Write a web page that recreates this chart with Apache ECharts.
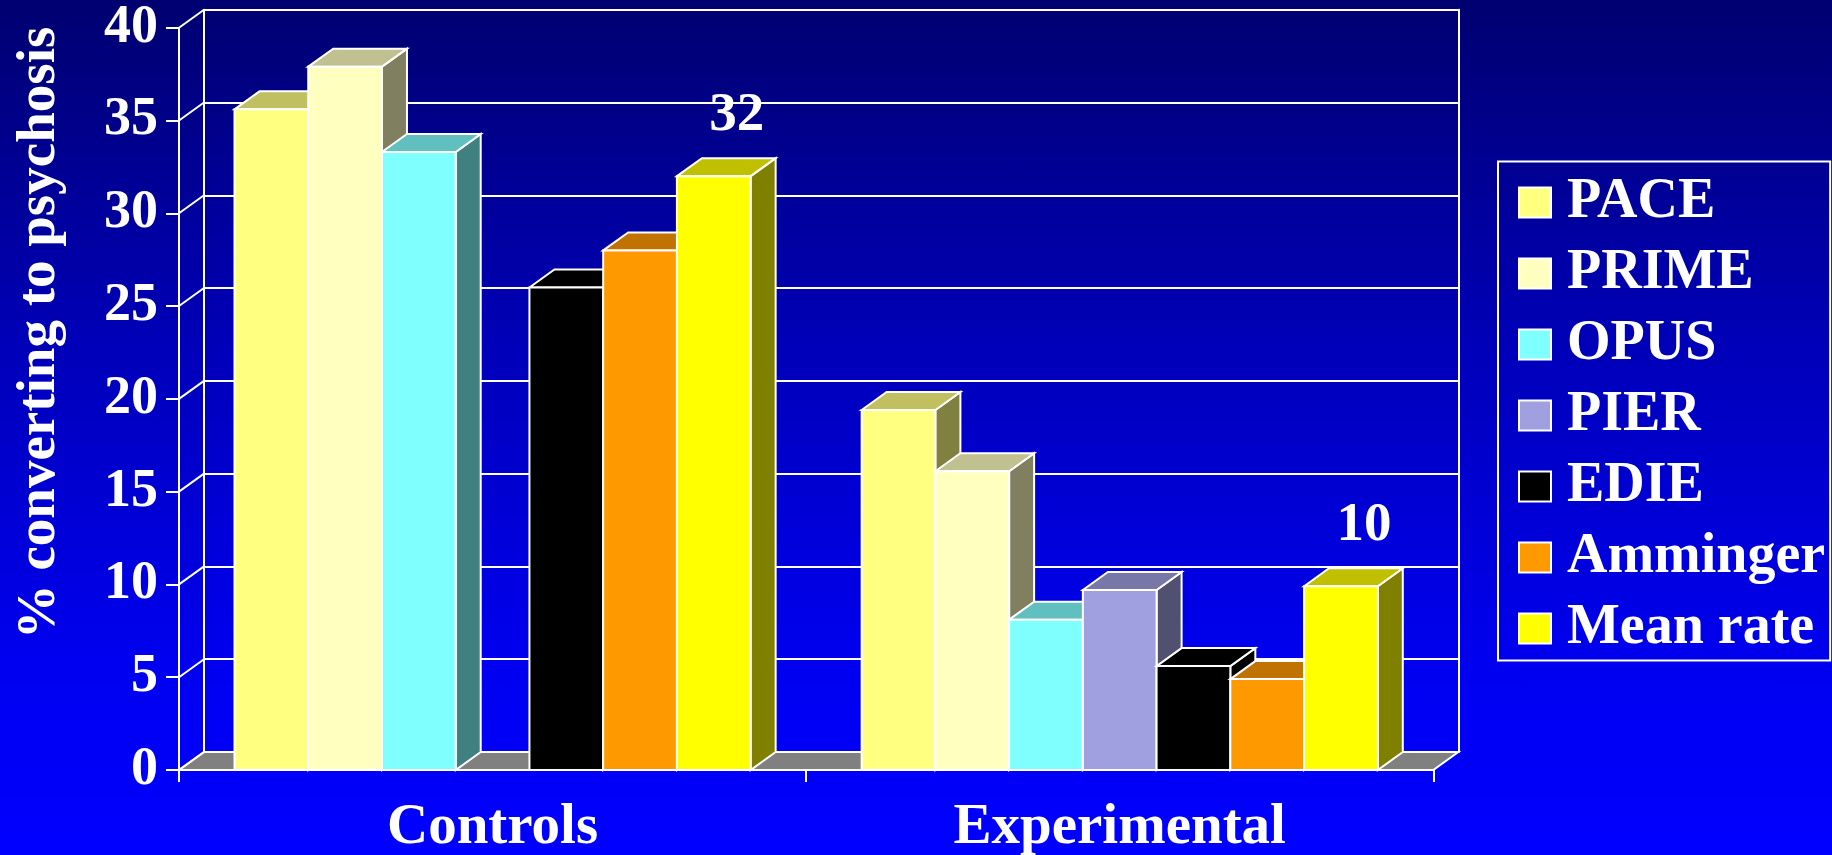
<!DOCTYPE html>
<html>
<head>
<meta charset="utf-8">
<script src="https://cdn.jsdelivr.net/npm/echarts@6/dist/echarts.min.js"></script>
<style>
  html, body { margin: 0; padding: 0; width: 1832px; height: 855px; overflow: hidden; }
  body { background: linear-gradient(to bottom, #000070 0%, #0000b8 40%, #0000f0 78%, #0000ff 100%); }
  #chart { width: 1832px; height: 855px; }
</style>
</head>
<body>
<div id="chart"></div>
<script>
// ---- data ----
const categories = ['Controls', 'Experimental'];
const studies = ['PACE', 'PRIME', 'OPUS', 'PIER', 'EDIE', 'Amminger', 'Mean rate'];
const controlsValues = [35.6, 37.9, 33.3, null, 26.0, 28.0, 32.0];
const experimentalValues = [19.4, 16.1, 8.1, 9.7, 5.6, 4.9, 9.9];
const yTickValues = [0, 5, 10, 15, 20, 25, 30, 35, 40];
const labelledStudy = 'Mean rate';

// ---- styles ----
const frontColors = ['#FFFF80', '#FFFFC0', '#80FFFF', '#A0A0E0', '#000000', '#FF9900', '#FFFF00'];
const topColors   = ['#C0C060', '#C0C090', '#60C0C0', '#7878A8', '#000000', '#C07300', '#C0C000'];
const sideColors  = ['#808040', '#808060', '#408080', '#505070', '#000000', '#804D00', '#808000'];
const FONT = "'Liberation Serif', 'Times New Roman', Times, serif";
const DX = 25, DY = -18;
const GROUP_FRAC = 0.823;

const chart = echarts.init(document.getElementById('chart'), null, { renderer: 'canvas' });

function barRenderer(idx) {
  return function (params, api) {
    const v = api.value(1);
    if (v === null || v === undefined || isNaN(v)) return null;
    const cat = api.value(0);
    const base = api.coord([cat, 0]);
    const top = api.coord([cat, v]);
    const catW = api.size([1, 0])[0];
    const bw = catW * GROUP_FRAC / studies.length;
    const x0 = base[0] - catW * GROUP_FRAC / 2 + idx * bw;
    const x1 = x0 + bw;
    const yb = base[1], yt = top[1];
    const edge = { stroke: '#FFFFFF', lineWidth: 2, lineJoin: 'miter' };
    const children = [
      { type: 'polygon', shape: { points: [[x1, yt], [x1 + DX, yt + DY], [x1 + DX, yb + DY], [x1, yb]] },
        style: Object.assign({ fill: sideColors[idx] }, edge) },
      { type: 'polygon', shape: { points: [[x0, yt], [x0 + DX, yt + DY], [x1 + DX, yt + DY], [x1, yt]] },
        style: Object.assign({ fill: topColors[idx] }, edge) },
      { type: 'rect', shape: { x: x0, y: yt, width: bw, height: yb - yt },
        style: Object.assign({ fill: frontColors[idx] }, edge) }
    ];
    if (studies[idx] === labelledStudy) {
      children.push({
        type: 'text',
        style: {
          text: String(Math.round(v)), x: (x0 + x1) / 2 + 23, y: yt - 60,
          align: 'center', verticalAlign: 'middle',
          fill: '#FFFFFF', font: 'bold 55px ' + FONT
        }
      });
    }
    return { type: 'group', children: children };
  };
}

const barSeries = studies.map(function (name, i) {
  return {
    name: name,
    type: 'custom',
    xAxisIndex: 0, yAxisIndex: 0,
    itemStyle: { color: frontColors[i] },
    renderItem: barRenderer(i),
    data: [[0, controlsValues[i]], [1, experimentalValues[i]]].filter(function (d) { return d[1] !== null; }),
    z: 3
  };
});

const wallSeries = {
  name: 'wall',
  type: 'custom',
  xAxisIndex: 0, yAxisIndex: 0,
  silent: true,
  z: 2,
  data: yTickValues.map(function (v) { return [0, v]; }),
  renderItem: function (params, api) {
    const cs = params.coordSys;
    const y = api.coord([0, api.value(1)])[1];
    const x = cs.x;
    const children = [];
    if (params.dataIndex === 0) {
      children.push({ type: 'polygon',
        shape: { points: [[x, y], [x + cs.width, y], [x + cs.width + DX, y + DY], [x + DX, y + DY]] },
        style: { fill: '#808080', stroke: '#FFFFFF', lineWidth: 2 } });
    }
    children.push({ type: 'line', shape: { x1: x, y1: y, x2: x + DX, y2: y + DY },
      style: { stroke: '#FFFFFF', lineWidth: 2 } });
    return { type: 'group', children: children };
  }
};

const white2 = { color: '#FFFFFF', width: 2 };

const option = {
  backgroundColor: 'transparent',
  animation: false,
  grid: [
    { left: 179, top: 27.7, width: 1254.3, height: 742.3, outerBoundsMode: 'none', containLabel: false },
    { left: 179 + DX, top: 27.7 + DY, width: 1254.3, height: 742.3, outerBoundsMode: 'none', containLabel: false }
  ],
  xAxis: [
    { type: 'category', gridIndex: 0, data: categories,
      axisLine: { show: true, lineStyle: white2 },
      axisTick: { show: true, length: 12, lineStyle: white2, interval: 0 },
      axisLabel: { interval: 0, margin: 30, color: '#FFFFFF', fontSize: 57, fontWeight: 'bold', fontFamily: FONT },
      splitLine: { show: false } },
    { type: 'category', gridIndex: 1, data: categories, show: false }
  ],
  yAxis: [
    { type: 'value', gridIndex: 0, min: 0, max: 40, interval: 5,
      axisLine: { show: true, lineStyle: white2 },
      axisTick: { show: true, length: 13, lineStyle: white2 },
      axisLabel: { margin: 21, color: '#FFFFFF', fontSize: 54, fontWeight: 'bold', fontFamily: FONT },
      splitLine: { show: false } },
    { type: 'value', gridIndex: 1, min: 0, max: 40, interval: 5,
      axisLine: { show: true, lineStyle: white2 },
      axisTick: { show: false }, axisLabel: { show: false },
      splitLine: { show: true, lineStyle: white2 } },
    { type: 'value', gridIndex: 1, position: 'right', min: 0, max: 40, interval: 5,
      axisLine: { show: true, lineStyle: white2 },
      axisTick: { show: false }, axisLabel: { show: false },
      splitLine: { show: false } }
  ],
  legend: {
    data: studies,
    orient: 'vertical',
    left: 1498, top: 161.5,
    padding: [13, 5, 4, 20],
    itemWidth: 32, itemHeight: 30, itemGap: 15,
    icon: 'rect',
    borderColor: '#FFFFFF', borderWidth: 2,
    selectedMode: false,
    itemStyle: { borderColor: '#FFFFFF', borderWidth: 2 },
    textStyle: { color: '#FFFFFF', fontSize: 56, lineHeight: 56, fontWeight: 'bold', fontFamily: FONT,
      padding: [0, 0, 0, 11] }
  },
  graphic: [
    { type: 'text', x: 40, y: 333, rotation: Math.PI / 2,
      style: { text: '% converting to psychosis', align: 'center', verticalAlign: 'middle',
        fill: '#FFFFFF', font: 'bold 55px ' + FONT } }
  ],
  series: [wallSeries].concat(barSeries)
};

chart.setOption(option);
</script>
</body>
</html>
